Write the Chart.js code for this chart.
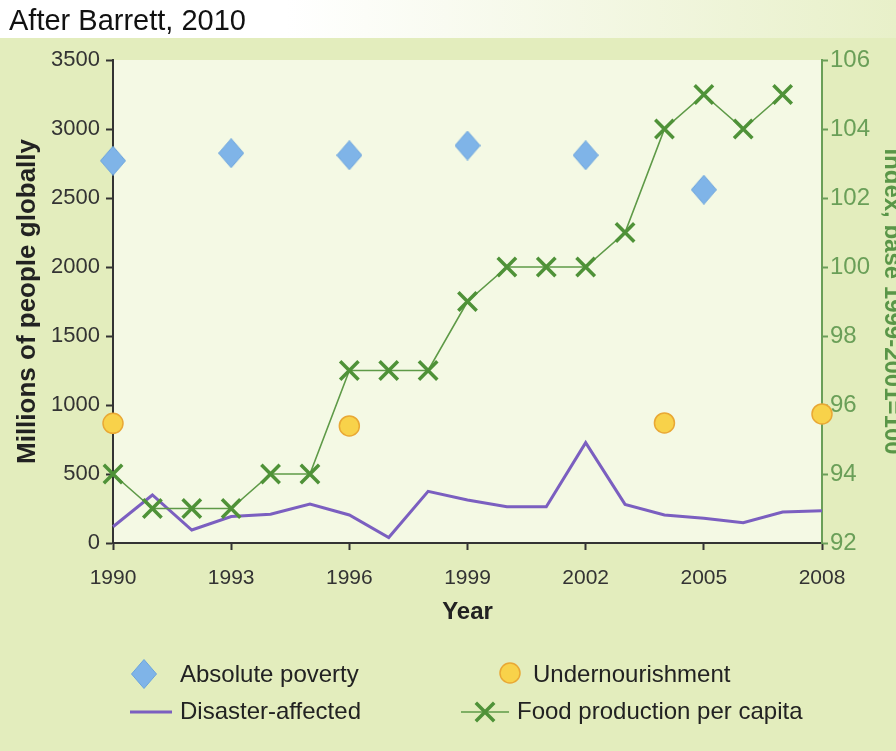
<!DOCTYPE html>
<html>
<head>
<meta charset="utf-8">
<script src="https://cdn.jsdelivr.net/npm/chart.js@4/dist/chart.umd.min.js"></script>
<style>
  html, body { margin: 0; padding: 0; background: #e3edbd; overflow: hidden; }
  #wrap { width: 896px; height: 751px; position: relative; }
</style>
</head>
<body>
<div id="wrap"><canvas id="c"></canvas></div>
<script>
// ---- data ----
const years = [1990,1991,1992,1993,1994,1995,1996,1997,1998,1999,2000,2001,2002,2003,2004,2005,2006,2007,2008];
const disasterAffected = [118,348,94,192,208,283,203,40,374,312,263,263,727,280,203,179,147,225,234];

const foodYears = [1990,1991,1992,1993,1994,1995,1996,1997,1998,1999,2000,2001,2002,2003,2004,2005,2006,2007];
const foodProduction = [94,93,93,93,94,94,97,97,97,99,100,100,100,101,104,105,104,105];

const povertyYears = [1990,1993,1996,1999,2002,2005];
const absolutePoverty = [2770,2825,2810,2880,2810,2560];

const underYears = [1990,1996,2004,2008];
const undernourishment = [867,848,870,935];

const xTicks = [1990,1993,1996,1999,2002,2005,2008];
const leftTicks = [0,500,1000,1500,2000,2500,3000,3500];
const rightTicks = [92,94,96,98,100,102,104,106];

const seriesNames = ['Absolute poverty','Undernourishment','Disaster-affected','Food production per capita'];

const pts = (xs, ys) => xs.map((x, i) => ({x: x, y: ys[i]}));

Chart.defaults.font.family = '"Liberation Sans", Arial, Helvetica, sans-serif';

const COL = {
  diamond: '#7fb4e8', diamondB: '#6ba4dc',
  circle: '#f8d24a', circleB: '#e9a834',
  purple: '#7b5fc0',
  green: '#5e9a47', greenMark: '#4f9238',
  axisGreen: '#6a9f58'
};

// slightly tall diamond marker used as the point style
function makeDiamond(w, h) {
  const c = document.createElement('canvas');
  c.width = w; c.height = h;
  const g = c.getContext('2d');
  g.beginPath();
  g.moveTo(w / 2, 0.5); g.lineTo(w - 0.5, h / 2); g.lineTo(w / 2, h - 0.5); g.lineTo(0.5, h / 2); g.closePath();
  g.fillStyle = COL.diamond; g.fill();
  g.strokeStyle = COL.diamondB; g.lineWidth = 1; g.stroke();
  return c;
}
const diamondImg = makeDiamond(26, 30);

const bgPlugin = {
  id: 'bg',
  beforeDraw(chart) {
    const {ctx, chartArea: a, width, height} = chart;
    ctx.save();
    ctx.fillStyle = '#e3edbd';
    ctx.fillRect(0, 0, width, height);
    const g = ctx.createLinearGradient(0, 0, width, 0);
    g.addColorStop(0, '#ffffff');
    g.addColorStop(0.32, '#ffffff');
    g.addColorStop(1, '#e8f0c9');
    ctx.fillStyle = g;
    ctx.fillRect(0, 0, width, 38);
    ctx.fillStyle = '#f4f9e4';
    ctx.fillRect(a.left, a.top, a.right - a.left, a.bottom - a.top);
    ctx.restore();
  }
};

const legendPlugin = {
  id: 'gridLegend',
  afterDraw(chart) {
    const {ctx} = chart;
    const H = Chart.helpers;
    ctx.save();
    ctx.font = '24px "Liberation Sans", Arial, sans-serif';
    ctx.textBaseline = 'middle';
    ctx.textAlign = 'left';
    const r1 = 675, r2 = 712;
    // Absolute poverty
    ctx.drawImage(diamondImg, 144 - 13, r1 - 1 - 15);
    // Undernourishment
    ctx.fillStyle = COL.circle; ctx.strokeStyle = COL.circleB; ctx.lineWidth = 1.5;
    H.drawPoint(ctx, {pointStyle: 'circle', radius: 10, borderWidth: 1.5}, 510, r1 - 2);
    // Disaster-affected
    ctx.strokeStyle = COL.purple; ctx.lineWidth = 3;
    ctx.beginPath(); ctx.moveTo(130, r2); ctx.lineTo(172, r2); ctx.stroke();
    // Food production
    ctx.strokeStyle = COL.green; ctx.lineWidth = 1.6;
    ctx.beginPath(); ctx.moveTo(461, r2); ctx.lineTo(509, r2); ctx.stroke();
    ctx.strokeStyle = COL.greenMark; ctx.lineWidth = 3.5;
    H.drawPoint(ctx, {pointStyle: 'crossRot', radius: 13, borderWidth: 3.5}, 485, r2);
    ctx.fillStyle = '#222';
    ctx.fillText(seriesNames[0], 180, r1);
    ctx.fillText(seriesNames[1], 533, r1);
    ctx.fillText(seriesNames[2], 180, r2);
    ctx.fillText(seriesNames[3], 517, r2);
    ctx.restore();
  }
};

new Chart(document.getElementById('c'), {
  type: 'scatter',
  data: {
    datasets: [
      {
        label: seriesNames[0], data: pts(povertyYears, absolutePoverty), yAxisID: 'y',
        pointStyle: diamondImg, pointRadius: 13, showLine: false, order: 0, clip: false
      },
      {
        label: seriesNames[1], data: pts(underYears, undernourishment), yAxisID: 'y',
        pointStyle: 'circle', pointRadius: 10, pointBackgroundColor: COL.circle,
        pointBorderColor: COL.circleB, pointBorderWidth: 1.5, showLine: false, order: 1, clip: false
      },
      {
        label: seriesNames[3], data: pts(foodYears, foodProduction), yAxisID: 'y2',
        showLine: true, borderColor: COL.green, borderWidth: 1.6, tension: 0,
        pointStyle: 'crossRot', pointRadius: 13, pointBorderColor: COL.greenMark,
        pointBorderWidth: 3.5, pointBackgroundColor: COL.greenMark, order: 2, clip: false
      },
      {
        label: seriesNames[2], data: pts(years, disasterAffected), yAxisID: 'y',
        showLine: true, borderColor: COL.purple, borderWidth: 3, tension: 0,
        pointRadius: 0, order: 3, clip: false
      }
    ]
  },
  options: {
    responsive: true,
    maintainAspectRatio: false,
    animation: false,
    devicePixelRatio: 1,
    layout: { padding: { left: 9, right: 0, top: 0, bottom: 128 } },
    plugins: {
      legend: { display: false },
      tooltip: { enabled: false },
      title: {
        display: true, text: 'After Barrett, 2010', align: 'start', color: '#111',
        font: { size: 29, weight: 'normal' }, padding: { top: 5, bottom: 20.2 }
      }
    },
    scales: {
      x: {
        type: 'linear', position: 'bottom', min: 1990, max: 2008,
        afterBuildTicks(s) { s.ticks = xTicks.map(v => ({value: v})); },
        afterFit(s) { s.height = 80; },
        ticks: { color: '#333', font: { size: 21 }, padding: 16, callback: v => String(v), autoSkip: false, maxRotation: 0 },
        grid: { drawOnChartArea: false, drawTicks: true, tickLength: 7, tickColor: '#333', tickWidth: 2 },
        border: { color: '#333', width: 2 },
        title: { display: true, text: 'Year', color: '#222', font: { size: 24, weight: 'bold' }, padding: { top: 0, bottom: -4 } }
      },
      y: {
        type: 'linear', position: 'left', min: 0, max: 3500,
        afterBuildTicks(s) { s.ticks = leftTicks.map(v => ({value: v})); },
        afterFit(s) { s.width = 104; },
        ticks: { color: '#333', font: { size: 22 }, padding: 6, callback: v => String(v) },
        grid: { drawOnChartArea: false, drawTicks: true, tickLength: 7, tickColor: '#333', tickWidth: 2 },
        border: { color: '#333', width: 2 },
        title: { display: true, text: 'Millions of people globally', color: '#222', font: { size: 26, weight: 'bold' }, padding: { top: 3, bottom: 0 } }
      },
      y2: {
        type: 'linear', position: 'right', min: 92, max: 106,
        afterBuildTicks(s) { s.ticks = rightTicks.map(v => ({value: v})); },
        afterFit(s) { s.width = 74; },
        ticks: { color: COL.axisGreen, font: { size: 24 }, padding: 2, callback: v => String(v) },
        grid: { drawOnChartArea: false, drawTicks: true, tickLength: 6, tickColor: COL.axisGreen, tickWidth: 2 },
        border: { color: COL.axisGreen, width: 2 },
        title: { display: true, text: 'Index, base 1999-2001=100', color: '#5a9648', font: { size: 24, weight: 'bold' }, padding: { top: -10, bottom: 0 } }
      }
    }
  },
  plugins: [bgPlugin, legendPlugin]
});
</script>
</body>
</html>
